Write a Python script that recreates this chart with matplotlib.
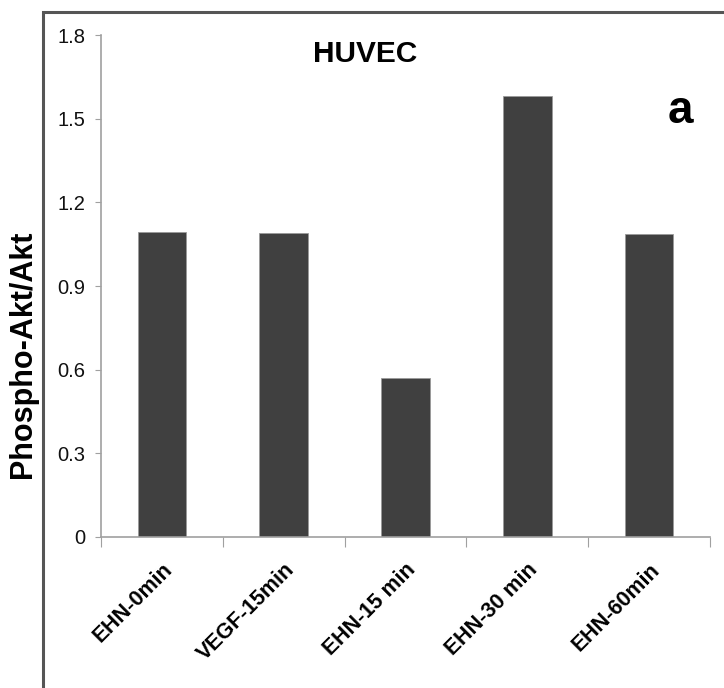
import matplotlib.pyplot as plt
import matplotlib.patches as patches
import numpy as np

plt.rcParams['font.family'] = ['Liberation Sans', 'DejaVu Sans']

categories = ['EHN-0min', 'VEGF-15min', 'EHN-15 min', 'EHN-30 min', 'EHN-60min']
values = [1.095, 1.09, 0.57, 1.58, 1.085]
yticks = [0, 0.3, 0.6, 0.9, 1.2, 1.5, 1.8]

W, H = 724, 688
fig = plt.figure(figsize=(W / 100, H / 100), dpi=100)

# outer frame (runs off right and bottom edges)
frame = patches.Rectangle((43 / W, -0.05), 1.2, 1 - 12 / H + 0.05, transform=fig.transFigure,
                          fill=False, ec='#555555', lw=2.2)
fig.add_artist(frame)

ax = fig.add_axes([101 / W, 1 - 537 / H, (710 - 101) / W, (537 - 35) / H])
x = np.arange(len(categories))
ax.bar(x, values, width=0.4, color='#404040', ec='#9a9a9a', lw=0.6)

ax.set_xlim(-0.5, len(categories) - 0.5)
ax.set_ylim(0, 1.8)
ax.set_yticks(yticks)
ax.set_yticklabels(['0', '0.3', '0.6', '0.9', '1.2', '1.5', '1.8'], fontsize=14.5, color='#111111')
ax.set_xticks(np.arange(len(categories) + 1) - 0.5)
ax.set_xticklabels([])
ax.set_xticks(x, minor=True)
ax.set_xticklabels(categories, minor=True, rotation=45, ha='right', rotation_mode='anchor',
                   fontsize=15.5, fontweight='bold')
ax.tick_params(axis='x', which='minor', length=0, pad=16)
ax.tick_params(axis='x', which='major', length=7, color='#a0a0a0', direction='out')
ax.tick_params(axis='y', length=4, color='#a0a0a0', pad=7)

for s in ['top', 'right']:
    ax.spines[s].set_visible(False)
for s in ['left', 'bottom']:
    ax.spines[s].set_color('#a0a0a0')
    ax.spines[s].set_linewidth(1.2)

ax.set_ylabel('Phospho-Akt/Akt', fontsize=22, fontweight='bold')
ax.yaxis.set_label_coords((23 - 101) / (710 - 101), (537 - 354) / (537 - 35))
ax.yaxis.label.set_va('center')

fig.text(365 / W, 1 - 54 / H, 'HUVEC', fontsize=21.5, fontweight='bold', ha='center', va='center')
fig.text(680 / W, 1 - 111 / H, 'a', fontsize=33, fontweight='bold', ha='center', va='center')

fig.savefig('out.png', dpi=100)
